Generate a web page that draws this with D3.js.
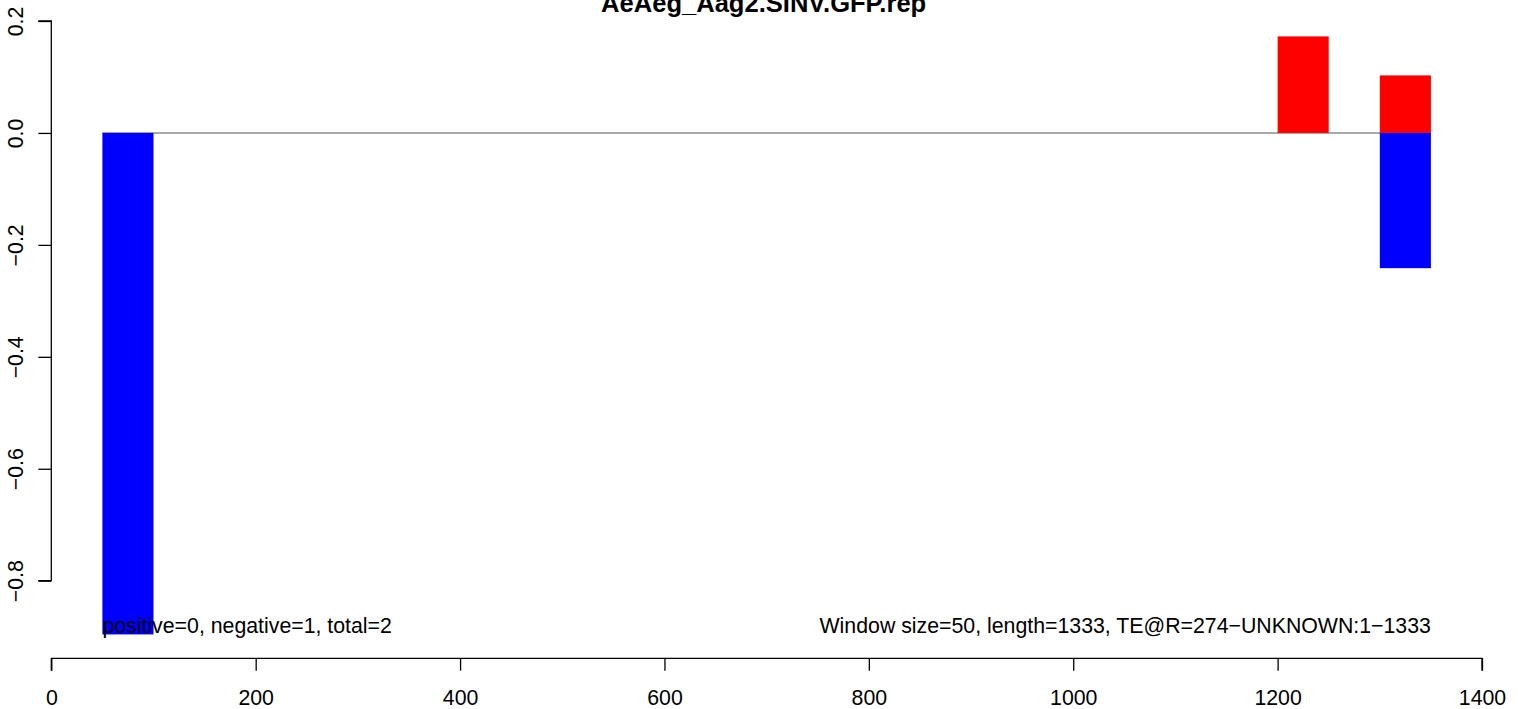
<!DOCTYPE html>
<html>
<head>
<meta charset="utf-8">
<script src="https://cdn.jsdelivr.net/npm/d3@7"></script>
<style>
  html, body { margin: 0; padding: 0; background: #fff; }
  svg { display: block; font-family: "Liberation Sans", Arial, sans-serif; }
</style>
</head>
<body>
<svg id="chart" width="1518" height="709"></svg>
<script>
// ---- data ----
const title = "AeAeg_Aag2.SINV.GFP.rep";
const binStarts = [50, 1200, 1300];
const binWidth = 50;
const positiveVals = [0, 0.1725, 0.1028];
const negativeVals = [-0.896, 0, -0.2416];
const xTicks = [0, 200, 400, 600, 800, 1000, 1200, 1400];
const yTicks = [-0.8, -0.6, -0.4, -0.2, 0.0, 0.2];
const leftNote = "positive=0, negative=1, total=2";
const rightNote = "Window size=50, length=1333, TE@R=274\u2212UNKNOWN:1\u22121333";
const zeroLineRange = [50, 1350];

// ---- layout ----
const svg = d3.select("#chart");
const x = d3.scaleLinear().domain([0, 1400]).range([51.3, 1482]);
const y = d3.scaleLinear().domain([-0.8, 0.2]).range([580.7, 21]);
const fs = 21.3;

// zero line
svg.append("line")
  .attr("x1", x(zeroLineRange[0])).attr("x2", x(zeroLineRange[1]))
  .attr("y1", y(0)).attr("y2", y(0))
  .attr("stroke", "#555").attr("stroke-width", 1.1);

// bars
const bars = binStarts.map((s, i) => ({s, p: positiveVals[i], n: negativeVals[i]}));
svg.selectAll("rect.pos").data(bars.filter(d => d.p !== 0)).enter().append("rect")
  .attr("class", "pos")
  .attr("x", d => x(d.s)).attr("width", d => x(d.s + binWidth) - x(d.s))
  .attr("y", d => y(d.p)).attr("height", d => y(0) - y(d.p))
  .attr("fill", "#ff0000");
svg.selectAll("rect.neg").data(bars.filter(d => d.n !== 0)).enter().append("rect")
  .attr("class", "neg")
  .attr("x", d => x(d.s)).attr("width", d => x(d.s + binWidth) - x(d.s))
  .attr("y", y(0)).attr("height", d => y(d.n) - y(0))
  .attr("fill", "#0000ff");

// x axis
const xAxis = d3.axisBottom(x).tickValues(xTicks).tickSize(12.4).tickPadding(22).tickFormat(d3.format("d"));
const gx = svg.append("g").attr("transform", `translate(0,658.3)`).call(xAxis);
gx.select(".domain").attr("stroke", "#000").attr("stroke-width", 1.3).attr("d", `M${x(0)},12.4V0H${x(1400)}V12.4`);
gx.selectAll(".tick line").attr("stroke", "#000").attr("stroke-width", 1.3);
gx.selectAll(".tick text").attr("font-size", fs).attr("font-family", "Liberation Sans, Arial, sans-serif")
  .attr("fill", "#000").attr("dy", null).attr("y", 46.7);

// y axis
const yAxis = d3.axisLeft(y).tickValues(yTicks).tickSize(13).tickFormat(d => d3.format(".1f")(d).replace("-", "\u2212"));
const gy = svg.append("g").attr("transform", `translate(${x(0)},0)`).call(yAxis);
gy.select(".domain").attr("stroke", "#000").attr("stroke-width", 1.3).attr("d", `M-13,${y(0.2)}H0V${y(-0.8)}H-13`);
gy.selectAll(".tick line").attr("stroke", "#000").attr("stroke-width", 1.3);
gy.selectAll(".tick text")
  .attr("font-size", fs).attr("font-family", "Liberation Sans, Arial, sans-serif").attr("fill", "#000")
  .attr("x", null).attr("dy", null).attr("text-anchor", "middle")
  .attr("transform", `translate(${23 - x(0)},0) rotate(-90)`);

// title
svg.append("text")
  .attr("x", (x(0) + x(1400)) / 2 - 3).attr("y", 12)
  .attr("text-anchor", "middle").attr("font-weight", "bold")
  .attr("font-size", fs * 1.2).text(title);

// notes
svg.append("text").attr("x", x(50)).attr("y", 633)
  .attr("font-size", fs).attr("fill", "#000").text(leftNote);
svg.append("text").attr("x", x(1350)).attr("y", 633)
  .attr("text-anchor", "end")
  .attr("font-size", fs).attr("fill", "#000").text(rightNote);
</script>
</body>
</html>
